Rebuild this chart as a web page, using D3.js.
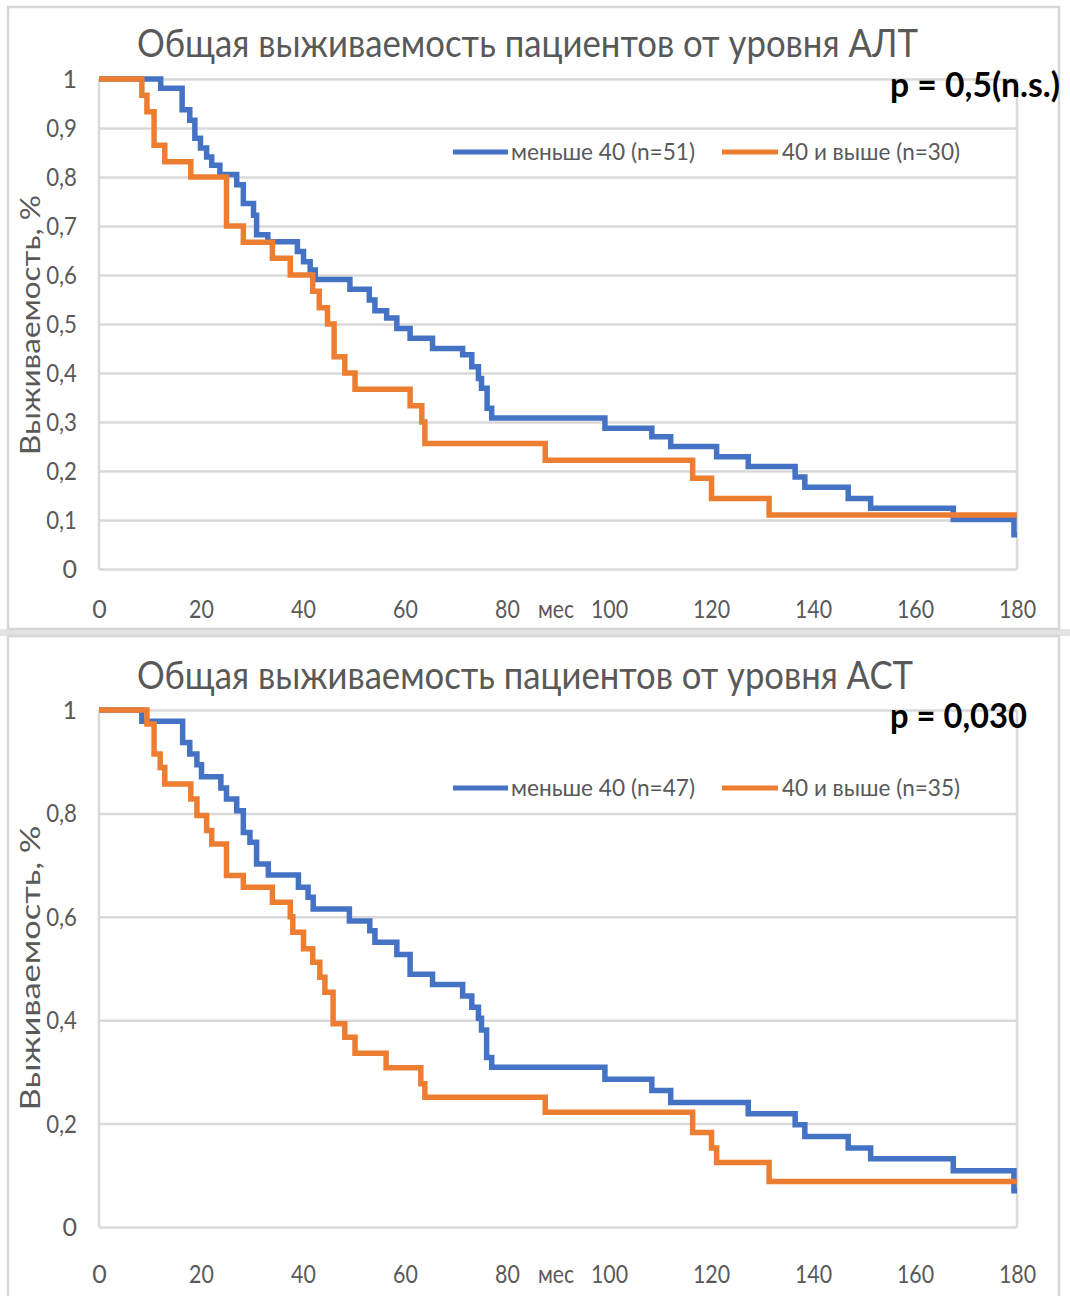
<!DOCTYPE html>
<html><head><meta charset="utf-8">
<script src="https://cdn.jsdelivr.net/npm/d3@7"></script>
<style>
html,body{margin:0;padding:0;background:#fff;}
svg{display:block;}
text{font-family:Lato,"Open Sans",sans-serif;}
</style></head><body>
<svg id="chart" width="1070" height="1296"></svg>
<script>
// ---------- data ----------
const xTicks = [0,20,40,60,80,100,120,140,160,180];
const altYTicks = [0,0.1,0.2,0.3,0.4,0.5,0.6,0.7,0.8,0.9,1];
const astYTicks = [0,0.2,0.4,0.6,0.8,1];
const xUnitLabel = "мес";
const yAxisTitle = "Выживаемость, %";

const altTitle = "Общая выживаемость пациентов от уровня АЛТ";
const astTitle = "Общая выживаемость пациентов от уровня АСТ";
const altP = "p  =  0,5(n.s.)";
const astP = "p  =  0,030";
const altLegend = ["меньше 40 (n=51)", "40 и выше (n=30)"];
const astLegend = ["меньше 40 (n=47)", "40 и выше (n=35)"];

const altLowTime = [0,12.1,16.3,17.8,18.8,19.9,21.1,22.1,23.7,27,28.3,30.3,30.9,33.1,38.9,40.1,41.4,42.4,49.2,53,54.1,56.4,58.4,61,65.4,71.3,73.1,74.4,75,76.1,77,99.2,108.4,112.1,121.1,127.3,136.5,138.4,146.9,151.3,167.5,179.4,180];
const altLowSurv = [1,0.981,0.937,0.916,0.879,0.859,0.841,0.824,0.805,0.784,0.746,0.722,0.682,0.668,0.648,0.627,0.610,0.591,0.571,0.549,0.527,0.512,0.491,0.471,0.450,0.437,0.413,0.389,0.369,0.328,0.308,0.287,0.270,0.250,0.229,0.209,0.188,0.167,0.144,0.124,0.101,0.07,0.07];
const altHighTime = [0,8.4,9.4,10.8,12.9,18,25,28.3,34,37.5,41.9,43.2,44.8,46.1,48.2,50.2,61,63.3,63.9,87.5,116.4,120.1,131.4,180];
const altHighSurv = [1,0.967,0.933,0.865,0.831,0.8,0.7,0.667,0.634,0.6,0.567,0.533,0.5,0.433,0.4,0.367,0.333,0.3,0.256,0.222,0.185,0.144,0.11,0.11];

const astLowTime = [0,8.4,16.4,17.8,19.2,20.1,23.9,25,27,28.3,29.6,30.9,33.2,39.1,41,42,49.1,53.1,54.1,58.4,61,65.4,71.3,73.1,74.4,75,76,77,99.2,108.4,112.1,127.3,136.5,138.4,146.9,151.3,167.5,179.4,180];
const astLowSurv = [1,0.978,0.937,0.915,0.894,0.871,0.849,0.828,0.805,0.763,0.744,0.702,0.681,0.657,0.638,0.615,0.592,0.573,0.551,0.527,0.489,0.469,0.447,0.425,0.404,0.381,0.328,0.309,0.286,0.264,0.241,0.219,0.198,0.175,0.153,0.132,0.109,0.07,0.07];
const astHighTime = [0,9.4,10.8,12,12.9,18,19.2,21.1,22.1,25,28.3,34,37.5,38,40.1,41.9,43.3,44.3,45.9,48.2,50.2,56.3,63.1,63.9,87.5,116.4,120.1,121.1,131.4,180];
const astHighSurv = [1,0.973,0.915,0.889,0.857,0.828,0.796,0.767,0.741,0.68,0.657,0.628,0.6,0.57,0.538,0.512,0.483,0.454,0.393,0.367,0.336,0.308,0.277,0.251,0.222,0.183,0.153,0.125,0.088,0.088];

const seriesColors = ["#4472C4", "#ED7D31"];

// ---------- layout ----------
const panels = [
  {title: altTitle, p: altP, legend: altLegend, yTicks: altYTicks,
   series: [[altLowTime, altLowSurv], [altHighTime, altHighSurv]],
   card: [8, 7, 1051, 622], top: 79, bottom: 569, titleY: 57, titleLen: 781, pY: 97, pLen: 170,
   legendY: 152, xLabelY: 618, yTitleMid: 325, yTitleLen: 260},
  {title: astTitle, p: astP, legend: astLegend, yTicks: astYTicks,
   series: [[astLowTime, astLowSurv], [astHighTime, astHighSurv]],
   card: [8, 636, 1051, 664], top: 710, bottom: 1227, titleY: 689, titleLen: 776, pY: 728, pLen: 137,
   legendY: 788, xLabelY: 1283, yTitleMid: 968, yTitleLen: 285}
];
const left = 99, right = 1017;
const gridColor = "#d9d9d9";
const textColor = "#595959";

const svg = d3.select("#chart");
svg.append("rect").attr("width",1070).attr("height",1296).attr("fill","#fff");
svg.append("rect").attr("x",0).attr("y",629).attr("width",1070).attr("height",7).attr("fill","#e3e3e3");

const x = d3.scaleLinear().domain([0,180]).range([left,right]);

function labelWidth(s){
  let w = 0;
  for (const ch of s) w += (ch === ",") ? 6 : 12.4;
  return w;
}
function fmt(v){ return v === 0 ? "0" : v === 1 ? "1" : String(+v.toFixed(1)).replace(".", ","); }

panels.forEach(P => {
  const g = svg.append("g");
  g.append("rect").attr("x",P.card[0]).attr("y",P.card[1]).attr("width",P.card[2]).attr("height",P.card[3])
    .attr("fill","#fff").attr("stroke","#d6d6d6").attr("stroke-width",2.5);

  const y = d3.scaleLinear().domain([0,1]).range([P.bottom, P.top]);

  // gridlines + y labels via axis
  const ya = g.append("g").attr("transform",`translate(${left},0)`)
    .call(d3.axisLeft(y).tickValues(P.yTicks).tickSize(-(right-left)).tickPadding(22).tickFormat(fmt));
  ya.select(".domain").remove();
  ya.selectAll(".tick line").attr("stroke",gridColor).attr("stroke-width",2.5);
  ya.selectAll(".tick text").attr("fill",textColor).style("font-size","25px")
    .attr("dy","0.34em")
    .each(function(d){ const t = fmt(d); if (t.length > 1) d3.select(this).attr("textLength", labelWidth(t)).attr("lengthAdjust","spacingAndGlyphs"); });

  // left/right frame lines
  [left, right].forEach(px => g.append("line").attr("x1",px).attr("x2",px).attr("y1",P.top).attr("y2",P.bottom)
    .attr("stroke",gridColor).attr("stroke-width",2.5));

  // x labels via axis
  const xa = g.append("g").attr("transform",`translate(0,${P.xLabelY})`)
    .call(d3.axisBottom(x).tickValues(xTicks).tickSize(0).tickPadding(0).tickFormat(d => String(d)));
  xa.select(".domain").remove();
  xa.selectAll(".tick text").attr("fill",textColor).style("font-size","25px").attr("dy",0)
    .each(function(d){ const t = String(d); if (t.length > 1) d3.select(this).attr("textLength", labelWidth(t)).attr("lengthAdjust","spacingAndGlyphs"); });
  g.append("text").attr("x", x(89.6)).attr("y", P.xLabelY).attr("text-anchor","middle")
    .attr("fill",textColor).style("font-size","25px").attr("textLength",36).attr("lengthAdjust","spacingAndGlyphs").text(xUnitLabel);

  // title
  g.append("text").attr("x",(137+137+P.titleLen)/2).attr("y",P.titleY).attr("text-anchor","middle")
    .attr("fill","#595959").style("font-size","38px").attr("textLength",P.titleLen).attr("lengthAdjust","spacingAndGlyphs")
    .text(P.title);

  // p value
  g.append("text").attr("x",890).attr("y",P.pY).attr("fill","#000").style("font-size","34px").style("font-weight","bold")
    .attr("textLength",P.pLen).attr("lengthAdjust","spacingAndGlyphs").text(P.p);

  // y-axis title
  g.append("text").attr("transform",`translate(40,${P.yTitleMid}) rotate(-90)`).attr("text-anchor","middle")
    .attr("fill",textColor).style("font-size","26px").attr("textLength",P.yTitleLen).attr("lengthAdjust","spacingAndGlyphs")
    .text(yAxisTitle);

  // legend
  const legX = [[453,508,511,184],[722,778,782,178]];
  P.legend.forEach((lab,i) => {
    const L = legX[i];
    g.append("line").attr("x1",L[0]).attr("x2",L[1]).attr("y1",P.legendY).attr("y2",P.legendY)
      .attr("stroke",seriesColors[i]).attr("stroke-width",5);
    g.append("text").attr("x",L[2]).attr("y",P.legendY+8).attr("fill",textColor).style("font-size","24px")
      .attr("textLength",L[3]).attr("lengthAdjust","spacingAndGlyphs").text(lab);
  });

  // curves
  const line = d3.line().x(d => x(d[0])).y(d => y(d[1])).curve(d3.curveStepAfter);
  P.series.forEach((s,i) => {
    const pts = s[0].map((t,k) => [t, s[1][k]]);
    g.append("path").datum(pts).attr("d",line).attr("fill","none")
      .attr("stroke",seriesColors[i]).attr("stroke-width",5.5).attr("stroke-linejoin","miter");
  });
});
</script>
</body></html>
